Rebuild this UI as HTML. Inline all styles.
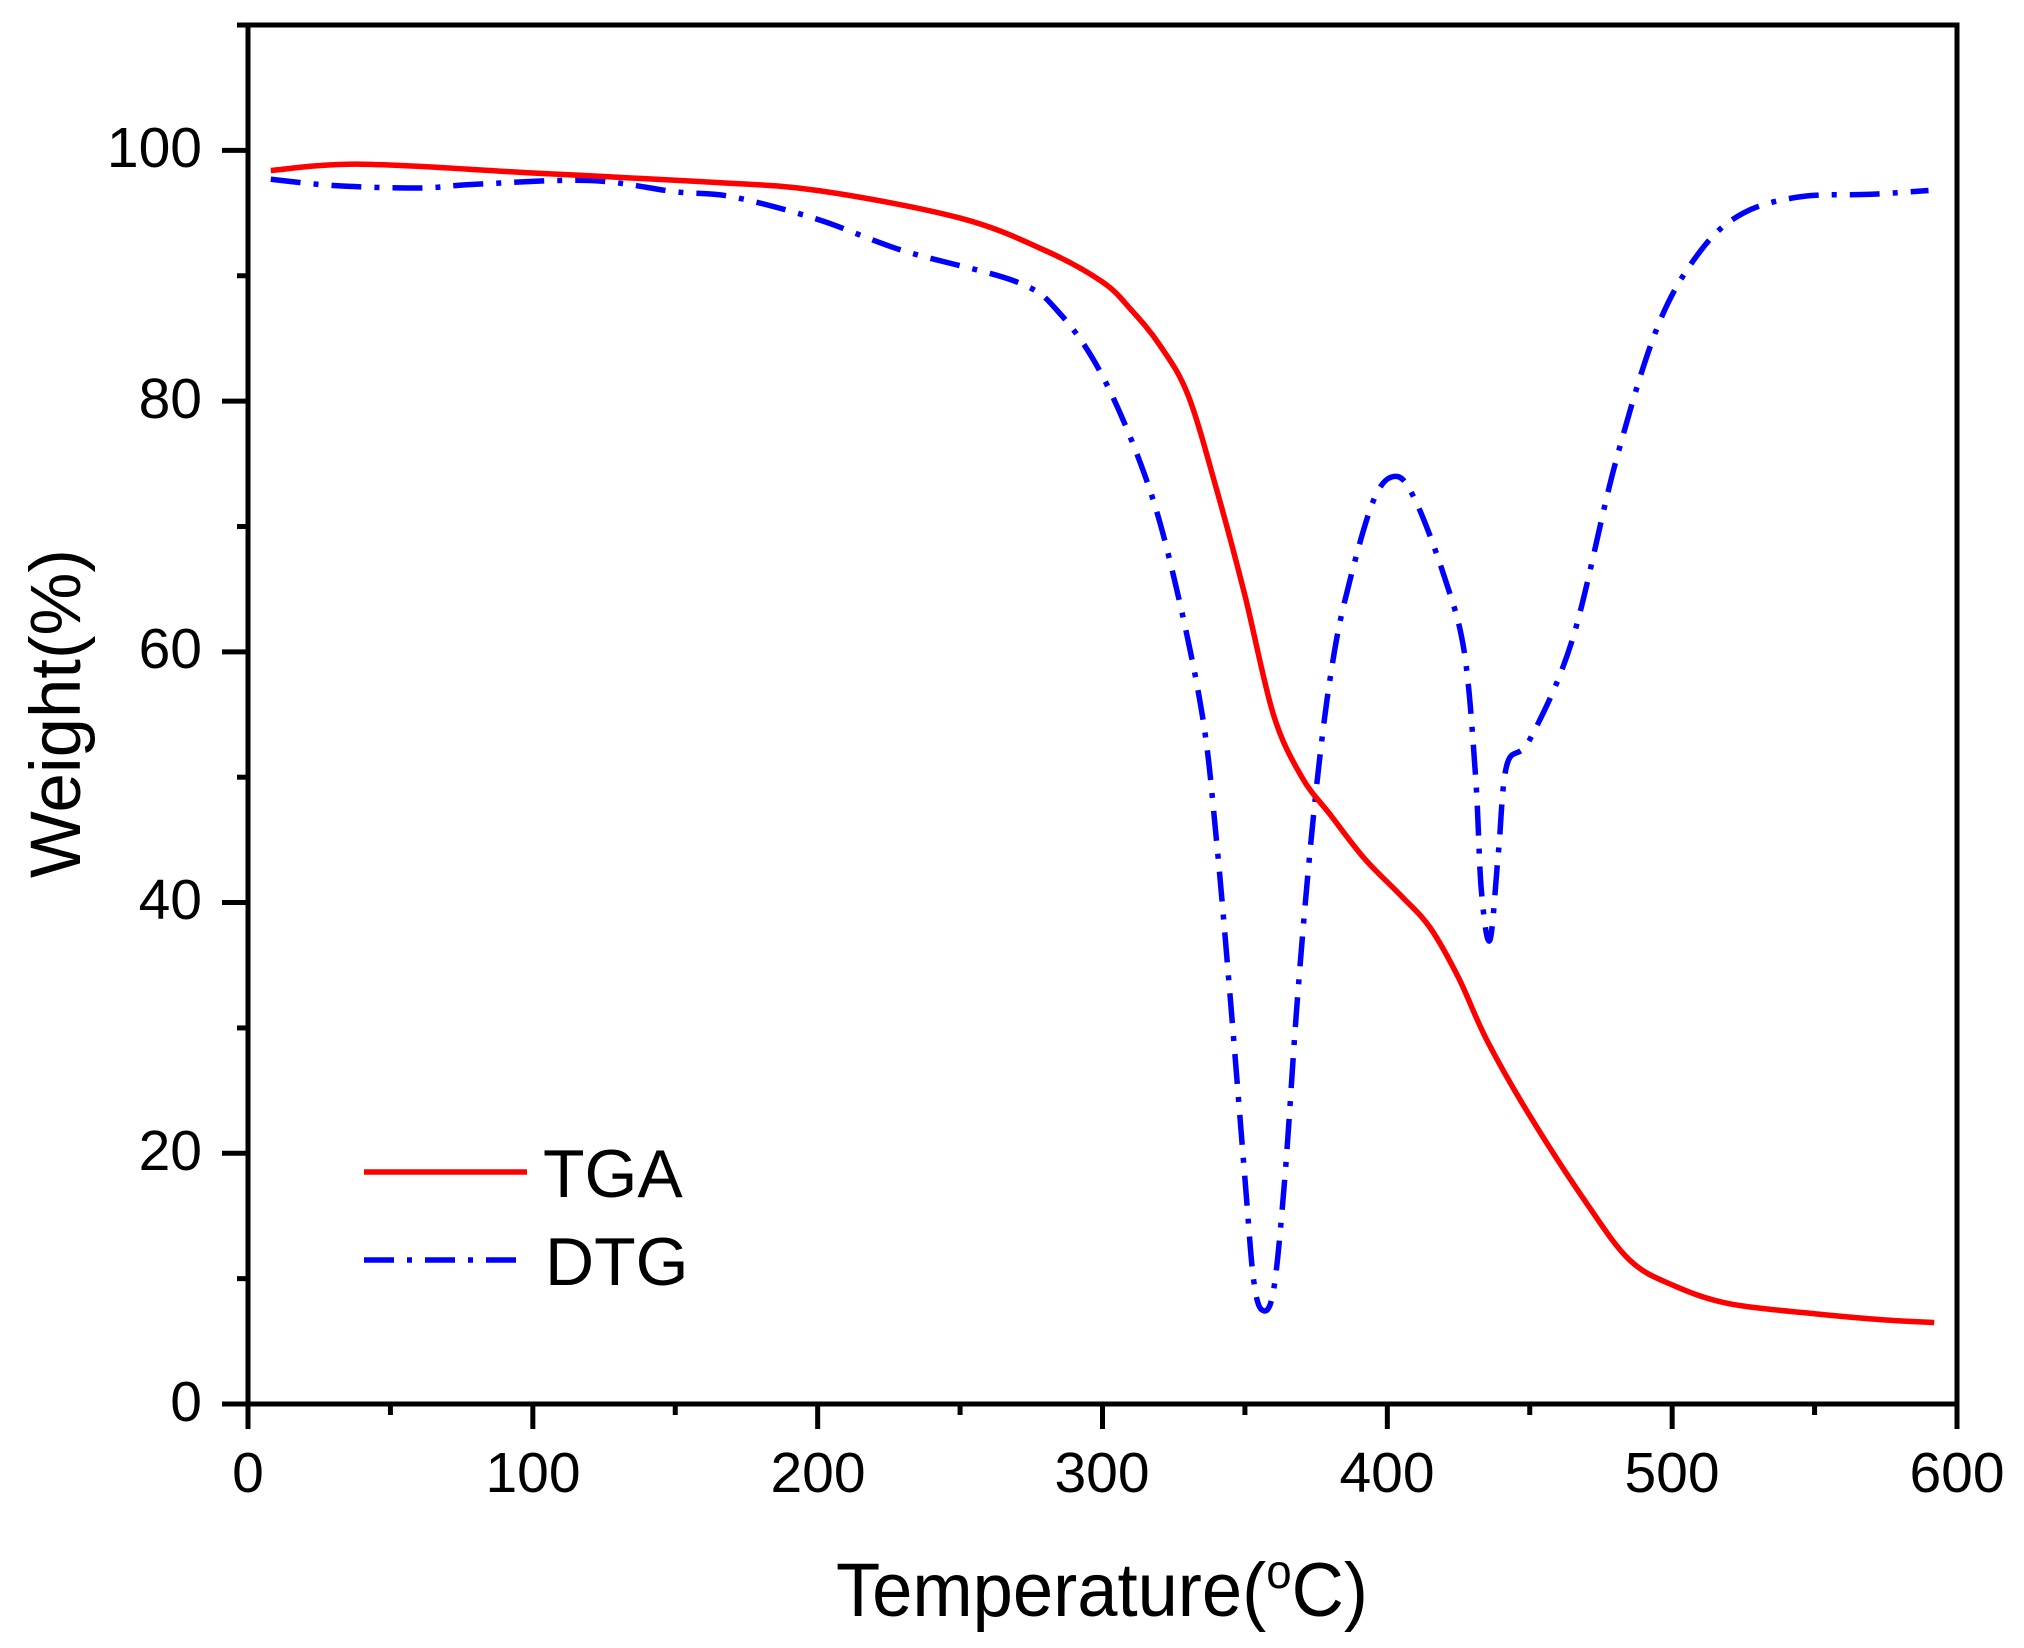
<!DOCTYPE html>
<html><head><meta charset="utf-8"><style>
html,body{margin:0;padding:0;background:#fff;}
svg{display:block;}
text{font-family:"Liberation Sans",Arial,sans-serif;fill:#000;}
</style></head><body>
<svg id="s" width="2024" height="1648" viewBox="0 0 2024 1648" xmlns="http://www.w3.org/2000/svg">
<rect width="2024" height="1648" fill="#fff"/>
<g id="ticks" stroke="#000" stroke-width="5"></g>
<path id="dtg" fill="none" stroke="#0000ff" stroke-width="5.5" stroke-dasharray="30 13 5 13"/>
<path id="tga" fill="none" stroke="#ff0000" stroke-width="5.5"/>
<rect x="248" y="25" width="1709" height="1379" fill="none" stroke="#000" stroke-width="5"/>
<g font-size="57" text-anchor="end">
<text x="202" y="1421">0</text>
<text x="202" y="1170">20</text>
<text x="202" y="919">40</text>
<text x="202" y="668">60</text>
<text x="202" y="418">80</text>
<text x="202" y="167">100</text>
</g>
<g font-size="57" text-anchor="middle">
<text x="248" y="1492">0</text>
<text x="533" y="1492">100</text>
<text x="818" y="1492">200</text>
<text x="1102" y="1492">300</text>
<text x="1387" y="1492">400</text>
<text x="1672" y="1492">500</text>
<text x="1957" y="1492">600</text>
</g>
<text x="836" y="1616" font-size="76" textLength="532" lengthAdjust="spacingAndGlyphs">Temperature(<tspan font-size="48" dy="-28">o</tspan><tspan dy="28">C)</tspan></text>
<text transform="translate(80,878) rotate(-90)" font-size="71" textLength="329" lengthAdjust="spacingAndGlyphs">Weight(%)</text>
<line x1="364" y1="1172" x2="527" y2="1172" stroke="#ff0000" stroke-width="5.5"/>
<line x1="364" y1="1260" x2="527" y2="1260" stroke="#0000ff" stroke-width="5.5" stroke-dasharray="30 13 5 13"/>
<text x="543" y="1197" font-size="68">TGA</text>
<text x="545" y="1285" font-size="68">DTG</text>
</svg>
<script>
var X=function(t){return 248+t*1709/600;},Y=function(w){return 1404-w*12.536;};
var g=document.getElementById('ticks'),h='';
for(var t=0;t<=600;t+=50){var x=X(t);h+='<line x1="'+x+'" y1="1404" x2="'+x+'" y2="'+(t%100?1415:1429)+'"/>';}
for(var w=0;w<=110;w+=10){var y=Y(w);h+='<line x1="248" y1="'+y+'" x2="'+(w%20?237:222)+'" y2="'+y+'"/>';}
g.innerHTML=h;
function path(p){var pts=p.map(function(a){return [X(a[0]),Y(a[1])];});var d='M'+pts[0][0]+','+pts[0][1];
for(var i=0;i<pts.length-1;i++){var p0=pts[i-1]||pts[i],p1=pts[i],p2=pts[i+1],p3=pts[i+2]||p2;
d+=' C'+(p1[0]+(p2[0]-p0[0])/6)+','+(p1[1]+(p2[1]-p0[1])/6)+' '+(p2[0]-(p3[0]-p1[0])/6)+','+(p2[1]-(p3[1]-p1[1])/6)+' '+p2[0]+','+p2[1];}
return d;}
var tga=[[8,98.4],[40,98.9],[100,98.2],[160,97.5],[200,96.8],[250,94.6],[280,92],[300,89.5],[310,87.3],[320,84.5],[330,80.5],[340,73],[350,64.5],[360,55],[370,50],[380,47],[392,43.5],[405,40.5],[415,38],[425,34],[435,29],[450,23],[470,16],[485,11.5],[500,9.5],[520,8],[550,7.2],[575,6.7],[592,6.5]];
var dtg=[[8,97.7],[30,97.2],[60,97],[80,97.3],[120,97.6],[150,96.7],[170,96.3],[200,94.5],[230,92],[270,89.5],[285,87],[300,82],[315,74],[325,66],[335,55],[340,45],[345,32],[350,18],[353,10],[356,7.5],[360,9],[364,18],[368,31],[372,42],[376,51],[380,58],[385,64],[395,72],[403,74],[410,72],[420,66],[427,60],[431,50],[433,41],[436,37],[439,44],[442,51],[450,53],[465,61],[480,75],[495,86],[510,92],[525,95],[545,96.3],[570,96.5],[590,96.8]];
document.getElementById('tga').setAttribute('d',path(tga));
document.getElementById('dtg').setAttribute('d',path(dtg));
</script>
</body></html>
